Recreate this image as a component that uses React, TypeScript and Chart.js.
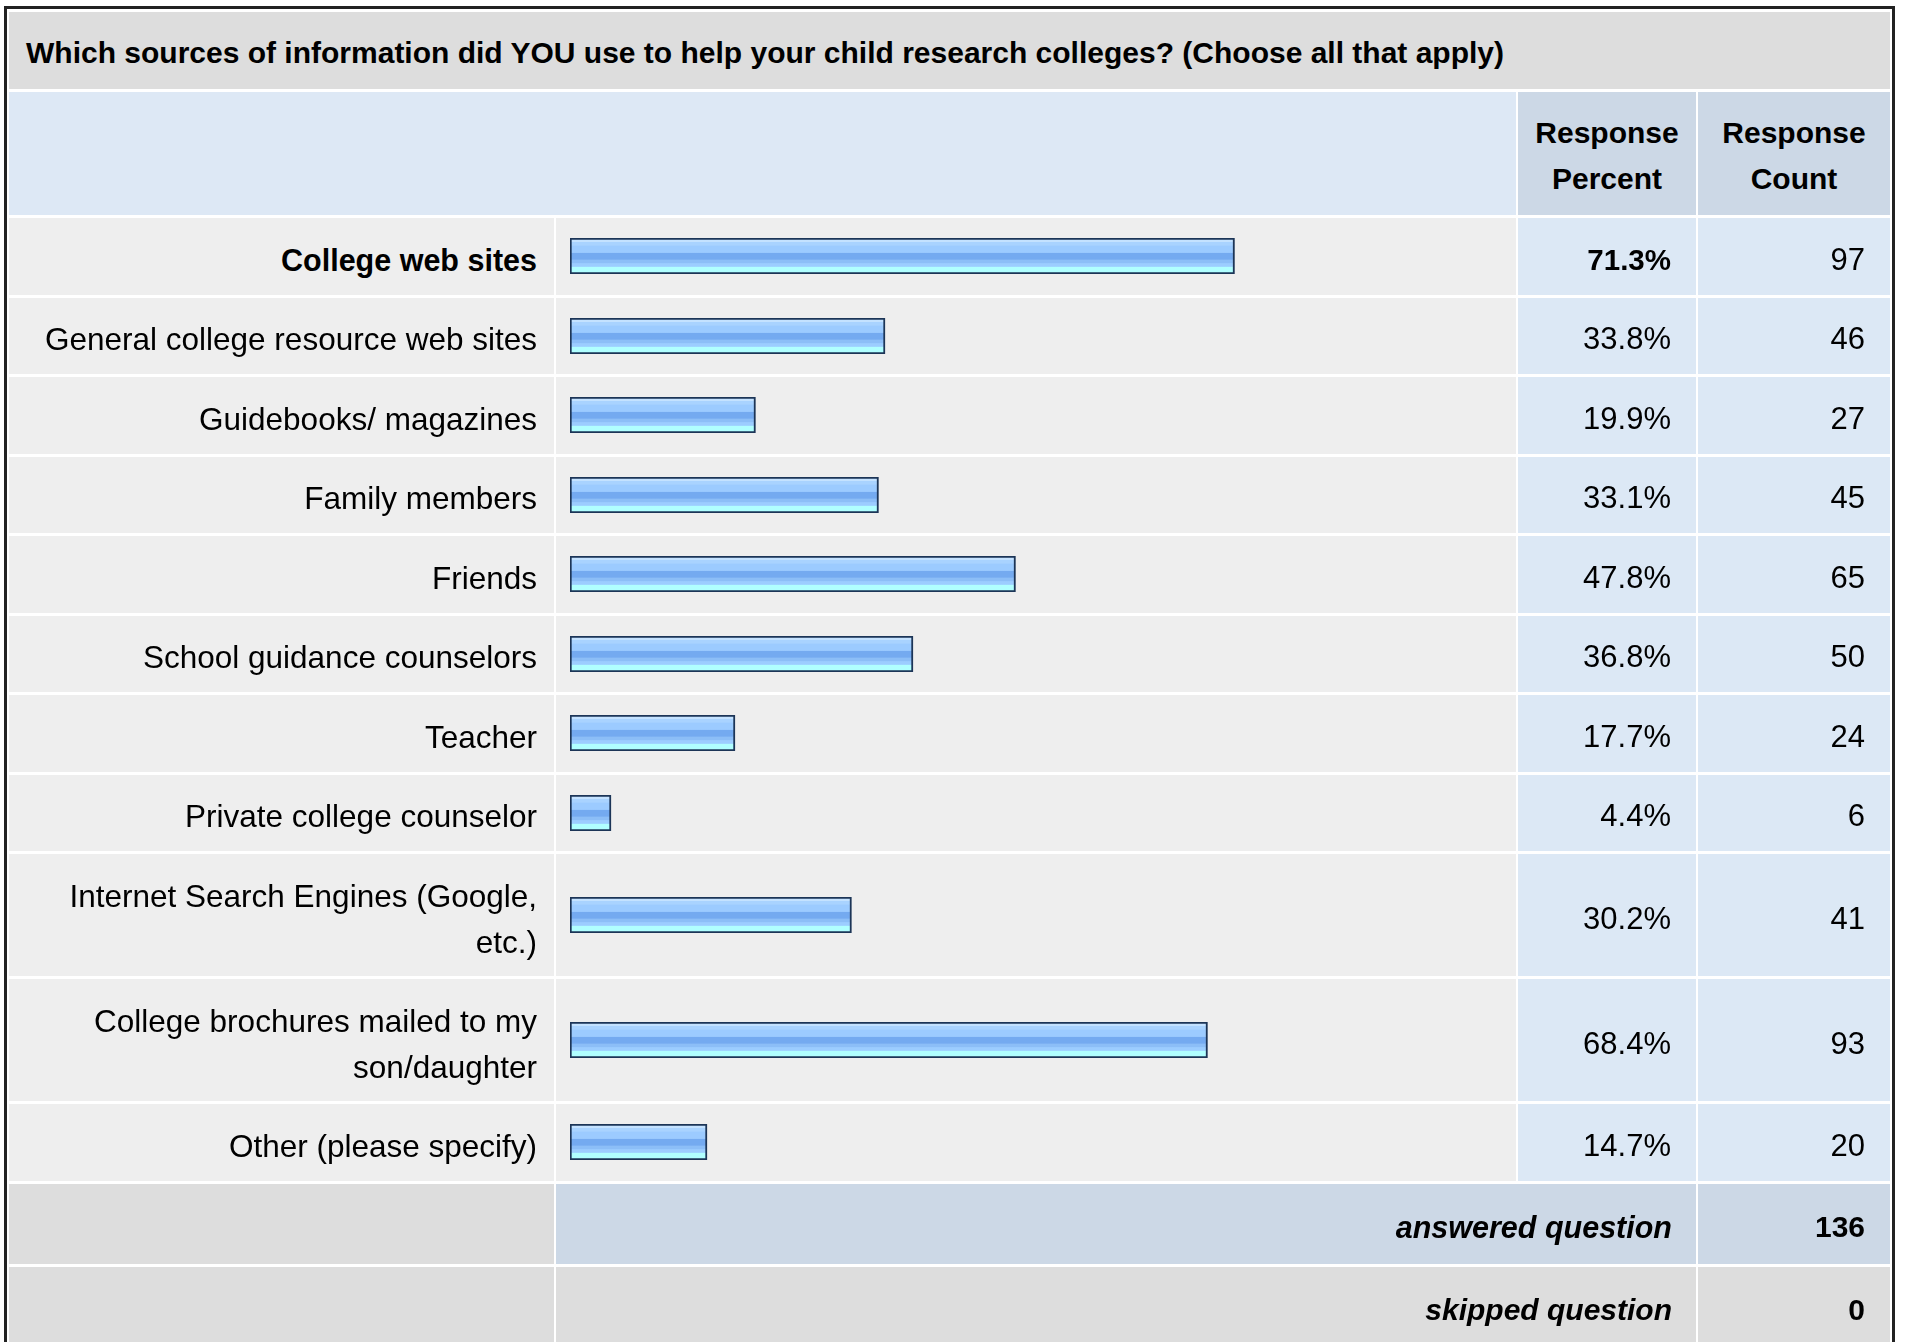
import React, { useEffect, useRef } from "react";
import { Chart, registerables } from "chart.js";

Chart.register(...registerables);

const questionTitle =
  "Which sources of information did YOU use to help your child research colleges? (Choose all that apply)";
const headerPercent = ["Response", "Percent"];
const headerCount = ["Response", "Count"];

const categories = [
  "College web sites",
  "General college resource web sites",
  "Guidebooks/ magazines",
  "Family members",
  "Friends",
  "School guidance counselors",
  "Teacher",
  "Private college counselor",
  "Internet Search Engines (Google, etc.)",
  "College brochures mailed to my son/daughter",
  "Other (please specify)",
];
const responsePercent = [71.3, 33.8, 19.9, 33.1, 47.8, 36.8, 17.7, 4.4, 30.2, 68.4, 14.7];
const responseCount = [97, 46, 27, 45, 65, 50, 24, 6, 41, 93, 20];
const boldRows = [0];
const answeredLabel = "answered question";
const answeredCount = 136;
const skippedLabel = "skipped question";
const skippedCount = 0;

const FONT = '"Liberation Sans", Arial, Helvetica, sans-serif';

function BarCanvas({ value }: { value: number }) {
  const ref = useRef<HTMLCanvasElement>(null);
  useEffect(() => {
    if (!ref.current) return;
    const chart = new Chart(ref.current, {
      type: "bar",
      data: {
        labels: [""],
        datasets: [
          {
            data: [value],
            backgroundColor: (c: any) => {
              const ch = c.chart;
              const area = ch.chartArea;
              if (!area) return "#9ccbff";
              const g = ch.ctx.createLinearGradient(0, area.top, 0, area.bottom);
              const stops: [number, string][] = [
                [0, "#c4e2ff"],
                [0.114, "#c4e2ff"],
                [0.12, "#a9d3ff"],
                [0.206, "#a9d3ff"],
                [0.212, "#9ccbff"],
                [0.40, "#9ccbff"],
                [0.43, "#74aaf0"],
                [0.59, "#74aaf0"],
                [0.61, "#8cbef7"],
                [0.70, "#8cbef7"],
                [0.71, "#9ccdff"],
                [0.79, "#9ccdff"],
                [0.80, "#b0ffff"],
                [1, "#b0ffff"],
              ];
              stops.forEach(([o, col]) => g.addColorStop(o, col));
              return g;
            },
            borderColor: "#1c3557",
            borderWidth: 2,
            borderSkipped: false,
            barPercentage: 1,
            categoryPercentage: 1,
          } as any,
        ],
      },
      options: {
        indexAxis: "y",
        animation: false,
        responsive: false,
        maintainAspectRatio: false,
        events: [],
        layout: { padding: 0 },
        scales: {
          x: { type: "linear", min: 0, max: 100, display: false },
          y: { type: "category", display: false },
        },
        plugins: { legend: { display: false }, tooltip: { enabled: false } },
      },
    });
    return () => chart.destroy();
  }, [value]);
  return (
    <canvas
      ref={ref}
      width={932}
      height={36}
      style={{ display: "block", width: 932, height: 36 }}
    />
  );
}

export default function App() {
  const base: React.CSSProperties = {
    fontFamily: FONT,
    fontSize: 31,
    lineHeight: "46px",
    color: "#000",
    verticalAlign: "middle",
    padding: 0,
  };
  const labelCell: React.CSSProperties = {
    ...base,
    fontSize: 31.5,
    background: "#eeeeee",
    textAlign: "right",
    padding: "7px 17px 0 20px",
  };
  const barCell: React.CSSProperties = {
    ...base,
    background: "#eeeeee",
    padding: "0 0 0 14px",
  };
  const pctCell: React.CSSProperties = {
    ...base,
    background: "#dce8f5",
    textAlign: "right",
    padding: "7px 25px 0 0",
  };
  const cntCell: React.CSSProperties = {
    ...base,
    background: "#dce8f5",
    textAlign: "right",
    padding: "7px 25px 0 0",
  };
  const isDouble = (s: string) => s.length > 36;

  return (
    <div
      style={{
        position: "absolute",
        left: 0,
        top: 0,
        width: 1905,
        height: 1342,
        overflow: "hidden",
        background: "#fff",
      }}
    >
      <div
        style={{
          position: "absolute",
          left: 4,
          top: 6,
          border: "3px solid #222",
          background: "#fff",
          width: 1885,
        }}
      >
        <table
          style={{
            borderCollapse: "separate",
            borderSpacing: "2px 3px",
            tableLayout: "fixed",
            width: 1885,
          }}
        >
          <colgroup>
            <col style={{ width: 545 }} />
            <col style={{ width: 960 }} />
            <col style={{ width: 178 }} />
            <col style={{ width: 192 }} />
          </colgroup>
          <tbody>
            <tr style={{ height: 77 }}>
              <td
                colSpan={4}
                style={{
                  ...base,
                  fontSize: 30,
                  fontWeight: "bold",
                  background: "#dddddd",
                  padding: "5px 0 0 17px",
                  whiteSpace: "nowrap",
                }}
              >
                {questionTitle}
              </td>
            </tr>
            <tr style={{ height: 123 }}>
              <td colSpan={2} style={{ ...base, background: "#dde8f5" }} />
              <td
                style={{
                  ...base,
                  fontSize: 30,
                  fontWeight: "bold",
                  background: "#ccd8e6",
                  textAlign: "center",
                  paddingTop: 5,
                }}
              >
                {headerPercent[0]}
                <br />
                {headerPercent[1]}
              </td>
              <td
                style={{
                  ...base,
                  fontSize: 30,
                  fontWeight: "bold",
                  background: "#ccd8e6",
                  textAlign: "center",
                  paddingTop: 5,
                }}
              >
                {headerCount[0]}
                <br />
                {headerCount[1]}
              </td>
            </tr>
            {categories.map((cat, i) => {
              const bold = boldRows.includes(i);
              return (
                <tr key={cat} style={{ height: isDouble(cat) ? 122 : 76.5 }}>
                  <td
                    style={{
                      ...labelCell,
                      fontWeight: bold ? "bold" : "normal",
                      fontSize: bold ? 30.5 : 31.5,
                    }}
                  >
                    {cat}
                  </td>
                  <td style={barCell}>
                    <BarCanvas value={responsePercent[i]} />
                  </td>
                  <td
                    style={{
                      ...pctCell,
                      fontWeight: bold ? "bold" : "normal",
                      fontSize: bold ? 29.5 : 31,
                    }}
                  >
                    {responsePercent[i].toFixed(1)}%
                  </td>
                  <td style={cntCell}>{responseCount[i]}</td>
                </tr>
              );
            })}
            <tr style={{ height: 80 }}>
              <td style={{ ...base, background: "#dddddd" }} />
              <td
                colSpan={2}
                style={{
                  ...base,
                  fontSize: 30.5,
                  background: "#ccd8e6",
                  textAlign: "right",
                  padding: "6px 24px 0 0",
                  fontWeight: "bold",
                  fontStyle: "italic",
                }}
              >
                {answeredLabel}
              </td>
              <td
                style={{
                  ...cntCell,
                  fontSize: 30,
                  background: "#ccd8e6",
                  fontWeight: "bold",
                  paddingTop: 6,
                }}
              >
                {answeredCount}
              </td>
            </tr>
            <tr style={{ height: 80 }}>
              <td style={{ ...base, background: "#dddddd" }} />
              <td
                colSpan={2}
                style={{
                  ...base,
                  fontSize: 30,
                  background: "#dddddd",
                  textAlign: "right",
                  padding: "6px 24px 0 0",
                  fontWeight: "bold",
                  fontStyle: "italic",
                }}
              >
                {skippedLabel}
              </td>
              <td
                style={{
                  ...cntCell,
                  fontSize: 30,
                  background: "#dddddd",
                  fontWeight: "bold",
                  paddingTop: 6,
                }}
              >
                {skippedCount}
              </td>
            </tr>
          </tbody>
        </table>
      </div>
    </div>
  );
}
